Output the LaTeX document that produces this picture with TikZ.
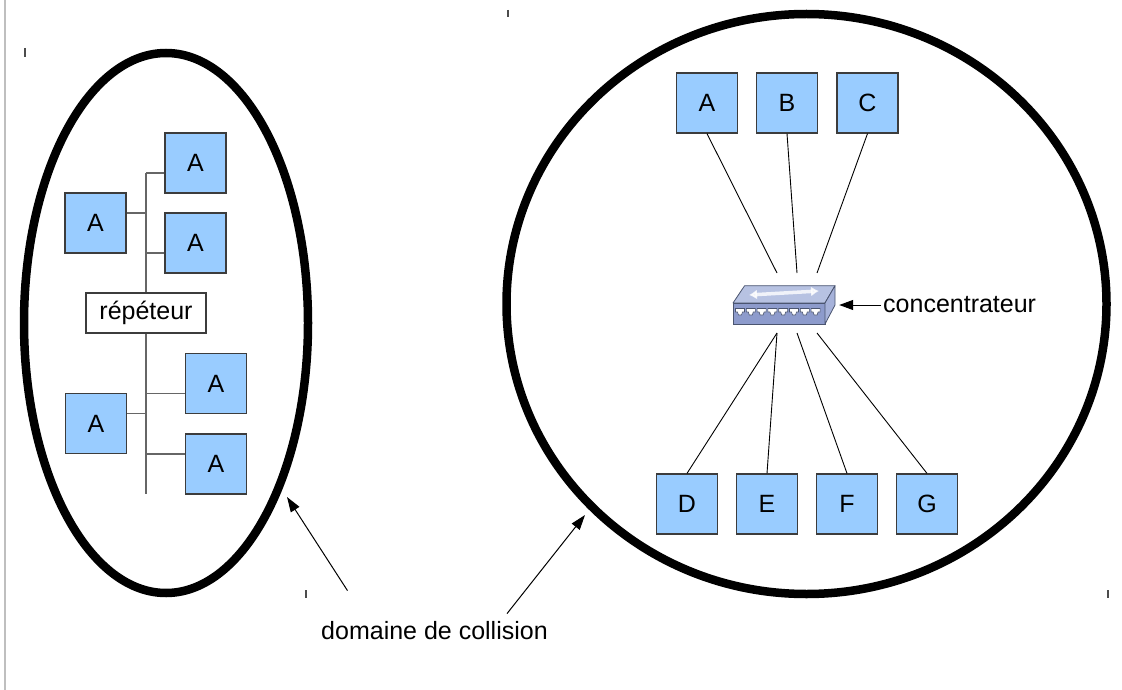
\documentclass[tikz,border=0pt]{standalone}
\usepackage{fontspec}
\setmainfont{Liberation Sans}
\usetikzlibrary{arrows.meta,shapes.geometric}
\definecolor{pcfill}{HTML}{99CCFF}
\definecolor{pcedge}{HTML}{3C3C3C}
\definecolor{busgray}{HTML}{666666}
\definecolor{hubtop}{HTML}{B7C2E2}
\definecolor{hubfront}{HTML}{8D9BCC}
\definecolor{hubside}{HTML}{A6B2DA}
\definecolor{hubedge}{HTML}{4B5570}
\begin{document}
\begin{tikzpicture}[x=1pt,y=-1pt,
  pc/.style={draw=pcedge,fill=pcfill,line width=1.2pt,minimum width=61pt,minimum height=60pt,inner sep=0pt,font=\fontsize{25}{30}\selectfont},
  busline/.style={draw=busgray,line width=1.4pt},
  link/.style={draw=black,line width=0.9pt},
  collzone/.style={draw=black,line width=8.5pt,ellipse,inner sep=0pt},
  callout/.style={draw=black,line width=1pt,-{Triangle[length=15pt,width=10pt]}},
  lbl/.style={font=\fontsize{25}{30}\selectfont,inner sep=2pt},
  tickmark/.style={draw=black!70,line width=1.2pt}]

\useasboundingbox (0,0) rectangle (1122,690);
\fill[white] (0,0) rectangle (1122,690);
\draw[draw=black!25,line width=1.5pt] (5,0) -- (5,690);
% page corner marks
\draw[tickmark] (25,48) -- (25,57);
\draw[tickmark] (508,10) -- (508,17);
\draw[tickmark] (306,590) -- (306,598);
\draw[tickmark] (1108,590) -- (1108,598);

% collision domains
\node[collzone,minimum width=284pt,minimum height=540pt] (dom1) at (166,323) {};
\node[collzone,minimum width=600pt,minimum height=580pt] (dom2) at (806.5,304) {};

% ---- left: repeater ----
\coordinate (bus) at (146,173);
\coordinate (busend) at (146,494);
\draw[busline] (bus) -- (busend);
\node[pc] (a1) at (195.5,163) {A};
\node[pc] (a2) at (195.5,243) {A};
\node[pc] (a0) at (95.5,223) {A};
\node[pc] (b0) at (96,423.5) {A};
\node[pc] (b1) at (216,383.5) {A};
\node[pc] (b2) at (216,464) {A};
\draw[busline] ([yshift=-10pt]a1.west) -- ([yshift=-10pt]a1.west -| bus);
\draw[busline] ([yshift=-10pt]a2.west) -- ([yshift=-10pt]a2.west -| bus);
\draw[busline] ([yshift=10pt]a0.east) -- ([yshift=10pt]a0.east -| bus);
\draw[busline] ([yshift=10pt]b0.east) -- ([yshift=10pt]b0.east -| bus);
\draw[busline] ([yshift=-10pt]b1.west) -- ([yshift=-10pt]b1.west -| bus);
\draw[busline] ([yshift=10pt]b2.west) -- ([yshift=10pt]b2.west -| bus);
\node[draw=pcedge,fill=white,line width=1.2pt,minimum width=120pt,minimum height=40pt,inner sep=0pt,font=\fontsize{25}{30}\selectfont] (rep) at (146,313) {répéteur};

% ---- right: hub ----
\node[pc] (A) at (707,103) {A};
\node[pc] (B) at (787,103) {B};
\node[pc] (C) at (867.5,103) {C};
\node[pc] (D) at (687,504) {D};
\node[pc] (E) at (767,504) {E};
\node[pc] (F) at (847,504) {F};
\node[pc] (G) at (927,504) {G};

% hub icon
\filldraw[fill=hubtop,draw=hubedge,line width=0.8pt,line join=round] (744.6,285.7) -- (835,285.7) -- (825,303) -- (733,303) -- cycle;
\filldraw[fill=hubfront,draw=hubedge,line width=0.8pt] (733,303) rectangle (825,324);
\filldraw[fill=hubside,draw=hubedge,line width=0.8pt,line join=round] (825,303) -- (835,285.7) -- (835,305) -- (825,324) -- cycle;
\draw[white,opacity=0.8,line width=3.5pt,{Latex[length=8pt,width=10pt]}-{Latex[length=8pt,width=10pt]}] (749,295) -- (819,291);
\foreach \i in {0,...,7} {
  \pgfmathsetmacro\px{735.5+\i*10.8}
  \filldraw[fill=white,draw=hubedge,line width=0.6pt] (\px,308.5) -- ++(9,0) -- ++(0,3.5) -- ++(-2,0) -- ++(-1,3) -- ++(-3,0) -- ++(-1,-3) -- ++(-2,0) -- cycle;
}
\node[minimum width=107pt,minimum height=40pt,inner sep=0pt] (hub) at (785.5,305) {};

\coordinate (hA) at (777,273);
\coordinate (hB) at (797,273);
\coordinate (hC) at (817,273);
\coordinate (hD) at (777,333);
\coordinate (hF) at (797,333);
\coordinate (hG) at (817,333);
\draw[link] (A.south) -- (hA);
\draw[link] (B.south) -- (hB);
\draw[link] (C.south) -- (hC);
\draw[link] (D.north) -- (hD);
\draw[link] (E.north) -- (hD);
\draw[link] (F.north) -- (hF);
\draw[link] (G.north) -- (hG);

\node[lbl,anchor=west] (conc) at (881,305) {concentrateur};
\draw[callout,-{Triangle[length=14pt,width=10pt]}] (conc.west) -- (hub.east);

% ---- label ----
\node[lbl] (dc) at (434.5,631) {domaine de collision};
\coordinate (tipL) at (287,497);
\coordinate (tipR) at (585,515);
\draw[callout] ([shift={(-87pt,29pt)}]dc.north) -- (tipL);
\draw[callout] ([shift={(72.5pt,6pt)}]dc.north) -- (tipR);
\end{tikzpicture}
\end{document}
